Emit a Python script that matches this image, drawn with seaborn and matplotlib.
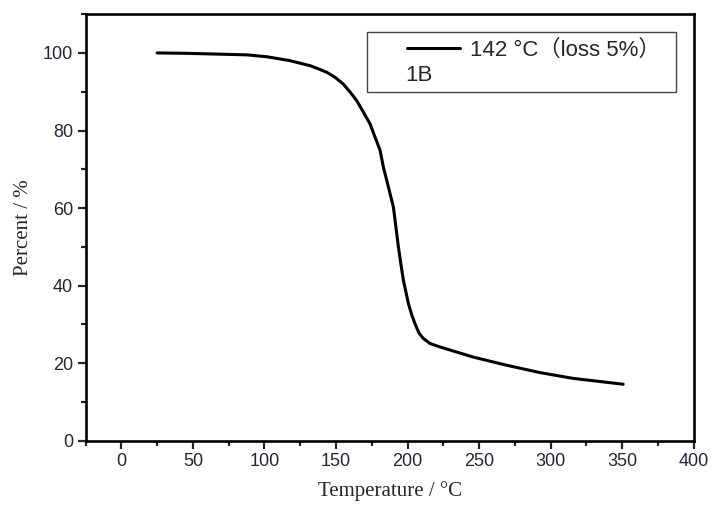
import numpy as np
import pandas as pd
import matplotlib
matplotlib.use("Agg")
import matplotlib.pyplot as plt
from matplotlib.patches import Rectangle
from matplotlib.ticker import MultipleLocator
import seaborn as sns

# TGA curve of sample 1B
temperature = [25, 45, 67, 88, 102, 118, 132, 137.7, 143.6, 149.4, 155, 159.9,
               164.5, 169.2, 173.8, 180.8, 183.1, 185.5, 190.1, 191.3, 193.6,
               195.3, 197.1, 200.6, 203, 205.2, 208, 211, 215.7, 222.7, 245.9,
               269.2, 292.5, 315.8, 350.7]
percent = [100, 99.9, 99.7, 99.5, 99.0, 98.0, 96.7, 95.9, 95.0, 93.7, 92.0, 89.9,
           87.7, 84.7, 81.7, 74.9, 70.6, 67.1, 60.3, 56.8, 50.0,
           45.7, 41.4, 35.4, 32.4, 30.2, 27.8, 26.4, 25.1, 24.2, 21.6,
           19.5, 17.6, 16.1, 14.6]
series_label = "142 °C（loss 5%）"
sample_name = "1B"

df = pd.DataFrame({"Temperature": temperature, "Percent": percent})

sns.set_style("white")
plt.rcParams['font.family'] = ['Liberation Sans', 'Noto Sans CJK SC', 'DejaVu Sans']

fig, ax = plt.subplots(figsize=(7.13, 5.05), dpi=100)
fig.subplots_adjust(left=0.120, right=0.973, top=0.972, bottom=0.127)

sns.lineplot(data=df, x="Temperature", y="Percent", sort=False, estimator=None,
             color="black", linewidth=2.2, ax=ax, label=series_label)

ax.set_xlim(-25, 400)
ax.set_ylim(0, 110)
ax.xaxis.set_major_locator(MultipleLocator(50))
ax.xaxis.set_minor_locator(MultipleLocator(25))
ax.yaxis.set_major_locator(MultipleLocator(20))
ax.yaxis.set_minor_locator(MultipleLocator(10))

for sp in ax.spines.values():
    sp.set_linewidth(1.9)
    sp.set_color("black")

ax.tick_params(which="major", direction="out", length=6, width=1.6,
               labelsize=13, labelcolor="#262633", pad=3,
               bottom=True, left=True, top=False, right=False)
ax.tick_params(which="minor", direction="out", length=3.5, width=1.6,
               bottom=True, left=True, top=False, right=False)

ax.set_xlabel("Temperature / °C", fontsize=15, family="Liberation Serif", labelpad=8)
ax.set_ylabel("Percent / %", fontsize=15, family="Liberation Serif", labelpad=7)

# legend box drawn like the Origin text box
ax.add_patch(Rectangle((0.462, 0.818), 0.508, 0.140, transform=ax.transAxes,
                       fill=False, edgecolor="#444444", linewidth=1.0, zorder=5))
leg = ax.legend(loc="upper left", bbox_to_anchor=(0.522, 0.950), frameon=False,
                fontsize=16, handlelength=2.35, handletextpad=0.45,
                borderaxespad=0, borderpad=0.2)
for t in leg.get_texts():
    t.set_family(['Liberation Sans', 'Noto Sans CJK SC'])
ax.text(0.526, 0.843, sample_name, transform=ax.transAxes, fontsize=16,
        ha="left", va="baseline")

fig.savefig("out.png", dpi=100)
